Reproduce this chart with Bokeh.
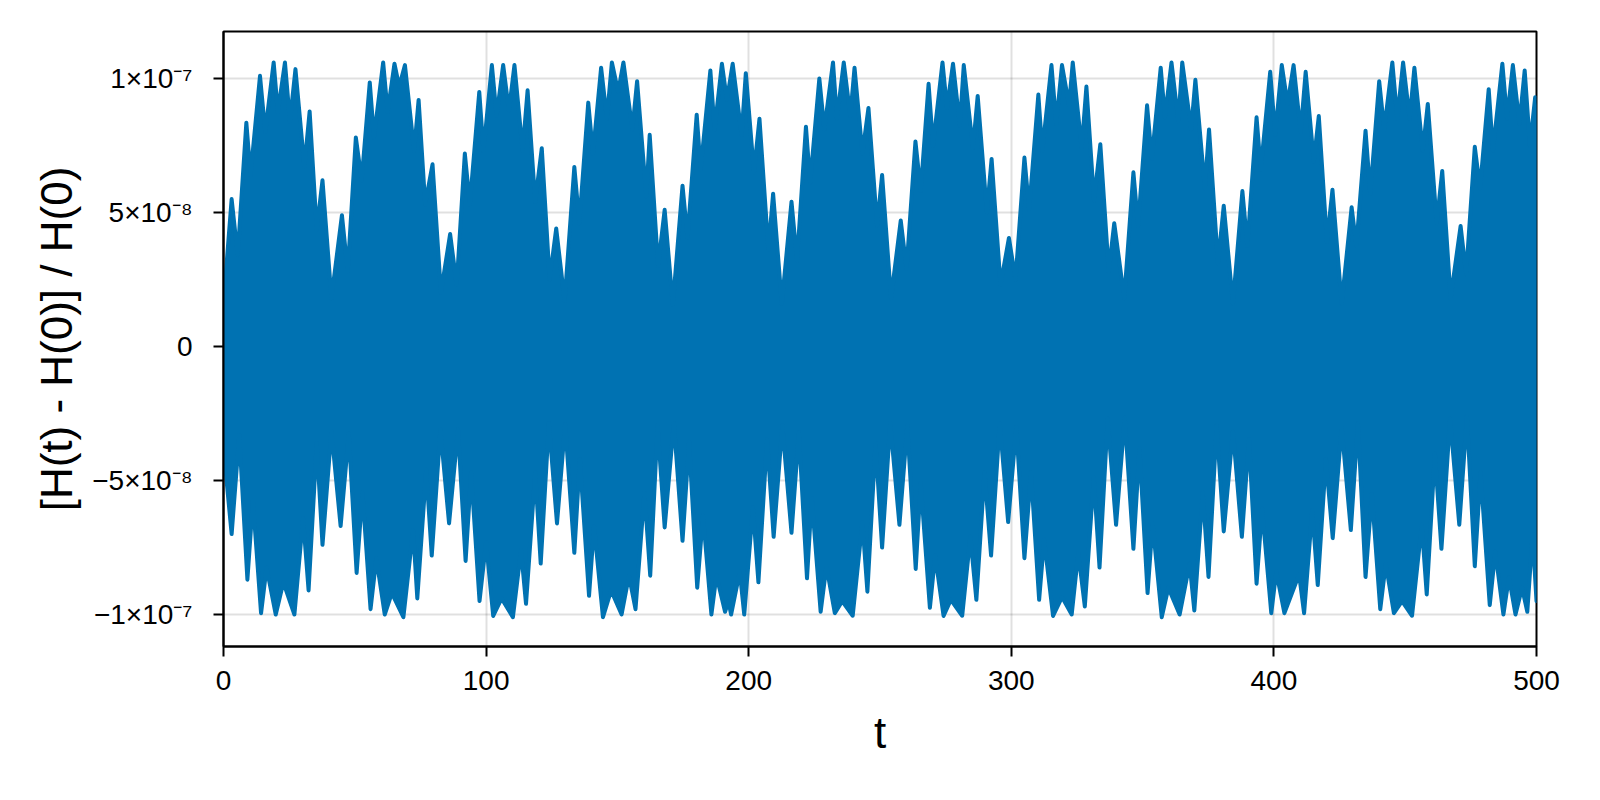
from bokeh.plotting import figure
from bokeh.models import FixedTicker, Range1d, ColumnDataSource
from bokeh.embed import file_html
from bokeh.resources import INLINE

# values (envelope of the dense oscillation), in units of 1e-8
SCALE = 1e-8

upper_t = [0, 3.1, 5.4, 8.7, 10.3, 13.9, 15.9, 19.1, 20.7, 23.4, 25.3, 27.4, 30.8, 32.8, 35.5, 37.7,
           41.1, 45.1, 47.3, 50.4, 52.6, 55.7, 57.3, 60.8, 62.5, 65.1, 66.9, 69.1, 72.6, 74.3, 76.8, 79.6,
           82.8, 86.3, 88.8, 91.9, 93.8, 97.4, 99.0, 102.2, 104.0, 106.5, 108.7, 110.8, 113.9, 115.8, 118.7,
           121.2, 124.2, 126.7, 129.9, 133.6, 135.5, 138.9, 140.7, 143.8, 146.0, 147.9, 150.3, 152.3, 155.7,
           157.5, 161.0, 162.3,
           165.5, 168.0, 171.1, 174.8, 176.7, 180.2, 181.7, 185.4, 187.0, 189.8, 191.7, 193.9, 197.3, 198.9,
           202.0, 204.1, 207.5, 209.3, 212.6, 216.3, 218.4, 221.8, 223.4, 226.9, 228.8, 232.1, 233.6, 236.2,
           238.7, 240.3, 243.3, 245.6, 248.9, 250.8, 254.2, 257.9, 260.1, 263.5, 265.5, 268.5, 270.2, 273.8,
           275.5, 277.8, 280.4, 281.9, 285.4, 287.2, 290.7, 292.5, 295.9, 299.1, 301.6, 305.0, 306.8, 310.3,
           311.8, 315.3, 317.1, 319.3, 322.0, 323.4,
           326.8, 328.6, 331.5, 333.9, 337.1, 339.2, 343.0, 346.5, 348.3, 351.7, 353.5, 356.9, 358.5, 361.0,
           363.6, 365.1, 368.5, 370.1, 373.7, 375.3, 378.7, 380.9, 384.4, 388.0, 389.9, 393.4, 395.0, 398.6,
           400.5, 403.0, 405.2, 407.5, 410.2, 412.1, 415.2, 417.1, 420.2, 422.3, 425.8, 429.6, 431.4, 434.9,
           436.7, 440.1, 442.0, 445.1, 447.0, 449.2, 451.7, 453.5, 456.7, 458.6, 462.0, 464.1, 467.3, 471.1,
           473.2, 476.5, 478.5, 481.8, 483.4, 487.0, 488.8, 491.0, 493.5, 495.5, 497.5, 499.5, 500]
upper_v = [1.6, 5.5, 3.4, 8.35, 6.4, 10.1, 8.0, 10.6, 8.75, 10.6, 8.4, 10.35, 6.7, 8.77, 4.35, 6.2,
           1.8, 4.9, 2.8, 7.8, 6.2, 9.85, 7.8, 10.6, 8.75, 10.55, 9.7, 10.5, 7.3, 9.2, 5.3, 6.8,
           2.0, 4.2, 2.3, 7.2, 5.3, 9.5, 7.3, 10.5, 8.6, 10.5, 8.8, 10.5, 7.3, 9.56, 5.4,
           7.4, 2.5, 4.4, 1.7, 6.7, 4.6, 9.1, 7.2, 10.4, 8.5, 10.6, 9.5, 10.6, 8.1,
           9.9, 5.6, 7.9,
           3.0, 5.1, 1.55, 6.0, 4.05, 8.65, 6.6, 10.3, 8.1, 10.55, 9.2, 10.55, 7.9, 10.2,
           6.5, 8.5, 3.6, 5.7, 1.6, 5.4, 3.2, 8.2, 6.1, 10.0, 8.1, 10.6, 8.5, 10.6,
           8.6, 10.4, 7.2, 8.9, 4.5, 6.4, 1.8, 4.7, 2.9, 7.65, 5.8, 9.8, 7.5, 10.6,
           8.9, 10.55, 8.25, 10.5, 7.4, 9.35, 5.0, 7.0, 2.3, 4.05, 2.5, 7.05, 5.1, 9.4,
           7.3, 10.5, 8.3, 10.5, 9.0, 10.6,
           7.4, 9.7, 5.45, 7.55, 2.8, 4.6, 1.8, 6.5, 4.5, 9.0, 7.0, 10.4, 8.55, 10.6,
           8.4, 10.6, 8.1, 9.95, 5.9, 8.1, 3.1, 5.25, 1.6, 5.8, 3.75, 8.55, 6.6, 10.25,
           7.9, 10.5, 9.05, 10.5, 8.0, 10.25, 6.9, 8.6, 3.9, 5.85, 1.6, 5.2, 3.75, 8.05,
           5.7, 9.9, 8.1, 10.6, 8.5, 10.6, 8.5, 10.4, 7.3, 9.05, 4.6, 6.55, 1.8, 4.5,
           2.7, 7.45, 5.9, 9.6, 7.3, 10.55, 8.5, 10.5, 8.3, 10.3, 7.5, 9.3, 9.0]

lower_t = [0, 3.1, 6.0, 9.1, 11.2, 14.3, 16.4, 19.9, 22.8, 27.0, 30.3, 32.4, 35.5, 37.7, 41.1, 44.6,
           47.7, 50.7, 52.9, 56.0, 58.2, 61.4, 64.1, 68.5, 72.2, 73.8, 77.2, 79.3, 82.6, 85.9, 89.3, 92.2,
           94.3, 97.5, 100.0, 102.7, 105.9, 110.2, 113.3, 115.2, 118.7, 120.8, 123.9, 127.0, 130.1, 133.6,
           135.7, 139.2, 141.1, 144.5, 147.6, 151.6, 154.4, 156.9, 160.3, 162.5,
           165.3, 168.0, 171.5, 174.8, 177.3, 180.4, 182.6, 185.8, 187.7, 191.0, 192.3, 193.3, 196.6, 198.3,
           201.6, 203.7, 207.0, 209.5, 212.8, 216.3, 219.1, 222.2, 224.0, 227.4, 229.6, 232.8, 235.6, 239.6,
           243.3, 245.2, 248.3, 250.8, 253.9, 257.4, 260.4, 263.6, 265.5, 269.0, 271.0, 274.2, 277.0, 281.3,
           284.4, 286.7, 289.8, 292.3, 295.6, 298.8, 301.9, 305.0, 307.5, 310.6, 312.5, 315.9, 319.3, 323.0,
           325.5, 328.0, 331.4, 333.6, 336.7, 339.9, 343.2, 346.5, 348.8, 351.9, 353.8, 357.3, 359.8, 364.1,
           367.9, 369.7, 372.9, 375.1, 378.2, 380.9, 384.4, 387.8, 390.5, 393.4, 395.5, 399.0, 400.9, 404.0,
           409.6, 411.5, 414.6, 416.7, 419.8, 422.4, 425.8, 429.3, 432.0, 434.9, 437.3, 440.5, 442.6, 445.7,
           448.8, 452.6, 456.3, 458.2, 461.3, 463.8, 467.1, 470.6, 473.5, 476.5, 478.7, 482.2, 484.3, 487.4,
           489.5, 492.0, 494.5, 496.5, 498.5, 500]
lower_v = [-3.8, -7.0, -3.3, -8.7, -5.75, -9.95, -8.25, -10.0, -8.8, -10.0, -6.4, -9.1, -3.6, -7.4, -3.15, -6.7,
           -3.25, -8.45, -5.45, -9.8, -7.9, -10.0, -9.2, -10.1, -6.85, -9.4, -4.6, -7.8, -3.1, -6.6, -3.1, -8.0,
           -4.7, -9.5, -7.3, -10.05, -9.4, -10.1, -7.6, -9.6, -4.7, -8.1, -2.85, -6.6, -2.9, -7.7,
           -4.2, -9.3, -6.7, -10.1, -9.1, -10.0, -8.55, -9.8, -5.45, -8.55,
           -2.95, -6.75, -2.85, -7.25, -3.55, -9.0, -6.3, -10.0, -8.55, -9.9, -9.5, -10.0, -8.4, -10.0,
           -6.0, -8.8, -3.45, -7.1, -2.95, -6.95, -3.2, -8.65, -5.65, -9.9, -8.2, -9.95, -9.5, -10.05,
           -6.55, -9.15, -3.6, -7.5, -2.85, -6.65, -2.95, -8.3, -5.1, -9.75, -7.8, -10.05, -9.45, -10.05,
           -7.1, -9.45, -4.7, -7.8, -2.85, -6.55, -3.0, -7.9, -4.7, -9.45, -7.2, -10.05, -9.35, -10.0,
           -7.7, -9.7, -4.9, -8.25, -2.7, -6.65, -2.65, -7.55, -3.8, -9.2, -6.6, -10.1, -9.0, -10.0,
           -8.1, -9.85, -5.45, -8.6, -2.95, -6.9, -3.15, -7.1, -3.45, -8.85, -6.05, -9.95, -8.4, -9.95,
           -8.5, -9.95, -6.1, -8.9, -4.2, -7.15, -3.0, -6.85, -2.85, -8.6, -5.5, -9.8, -8.1, -9.95,
           -9.5, -10.05, -6.65, -9.25, -4.0, -7.55, -2.7, -6.65, -2.6, -8.2, -4.7, -9.65, -7.65, -10.0,
           -8.6, -10.0, -9.0, -9.9, -7.0, -9.5]

x_ticks = [0, 100, 200, 300, 400, 500]
y_ticks = [-1e-7, -5e-8, 0.0, 5e-8, 1e-7]
y_tick_labels = ["\u22121\u00d710\u207b\u2077", "\u22125\u00d710\u207b\u2078", "0",
                 "5\u00d710\u207b\u2078", "1\u00d710\u207b\u2077"]

BLUE = "#0072B2"
FONT = "Liberation Sans"

xs = list(upper_t) + list(reversed(lower_t))
ys = [v * SCALE for v in upper_v] + [v * SCALE for v in reversed(lower_v)]
src = ColumnDataSource(dict(x=xs, y=ys))

p = figure(width=1592, height=792, output_backend="svg", toolbar_location=None,
           x_range=Range1d(0, 500), y_range=Range1d(-1.1194e-7, 1.1754e-7),
           min_border_left=223, min_border_right=56, min_border_top=31, min_border_bottom=146)
p.background_fill_color = "white"
p.border_fill_color = "white"
p.outline_line_color = "black"
p.outline_line_width = 2

p.patch("x", "y", source=src, fill_color=BLUE, line_color=BLUE, line_width=4, line_join="round")

p.xaxis.ticker = FixedTicker(ticks=x_ticks)
p.yaxis.ticker = FixedTicker(ticks=y_ticks)
p.yaxis.major_label_overrides = {t: l for t, l in zip(y_ticks, y_tick_labels)}

for ax in (p.xaxis[0], p.yaxis[0]):
    ax.axis_line_color = "black"
    ax.axis_line_width = 2
    ax.major_tick_line_color = "black"
    ax.major_tick_line_width = 2
    ax.major_tick_out = 10
    ax.major_tick_in = 0
    ax.minor_tick_line_color = None
    ax.major_label_text_font = FONT
    ax.major_label_text_font_size = "28px"
    ax.major_label_text_color = "black"
    ax.axis_label_text_font = FONT
    ax.axis_label_text_font_size = "44px"
    ax.axis_label_text_font_style = "normal"
    ax.axis_label_text_color = "black"

p.xaxis.axis_label = "t"
p.yaxis.axis_label = "[H(t) - H(0)] / H(0)"
p.xaxis.major_label_standoff = 14
p.yaxis.major_label_standoff = 21
p.xaxis.axis_label_standoff = 15
p.yaxis.axis_label_standoff = 8

p.grid.grid_line_color = "black"
p.grid.grid_line_alpha = 0.12
p.grid.grid_line_width = 2

open("out.html", "w").write(file_html(p, INLINE))
